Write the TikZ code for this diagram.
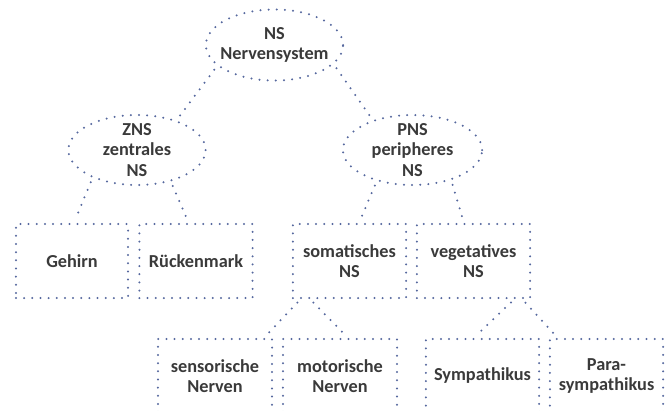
\documentclass[tikz,border=0pt]{standalone}
\usepackage{fontspec}
\setmainfont{Carlito}
\usetikzlibrary{shapes.geometric}
\definecolor{dotblue}{RGB}{86,104,158}
\definecolor{textgray}{RGB}{58,58,58}
\begin{document}
\begin{tikzpicture}[x=0.025cm, y=-0.025cm,
		every node/.style={font=\fontsize{13}{14.5}\selectfont\bfseries, text=textgray, align=center},
		dotline/.style={draw=dotblue, line width=1.6pt, line cap=round, dash pattern=on 0pt off 5.8pt},
		oval/.style={dotline, ellipse, inner xsep=-1cm, inner ysep=-1cm, minimum height=1.75cm},
		kasten/.style={dotline, rectangle, inner sep=0pt, minimum width=2.83cm, minimum height=1.85cm},
		link/.style={dotline, shorten <=0.12cm, shorten >=0.12cm}]
	% 1. Rahmen (Pixelmaße, untere Reihe wird abgeschnitten)
	\clip (0,0) rectangle (669,410);
	
	% 2. Ellipsen
	\node[oval, minimum width=3.43cm, minimum height=1.775cm] (ns) at (274.5,45) {NS\\Nervensystem};
	\node[oval, minimum width=3.43cm] (zns) at (137,150) {ZNS\\zentrales\\NS};
	\node[oval, minimum width=3.48cm] (pns) at (412.5,150) {PNS\\peripheres\\NS};
	
	% 3. Kästen, erste Reihe
	\node[kasten, minimum width=2.8cm] (gehirn) at (72,261) {Gehirn};
	\node[kasten] (rm) at (196,261) {Rückenmark};
	\node[kasten] (som) at (349.5,261) {somatisches\\NS};
	\node[kasten] (veg) at (473.5,261) {vegetatives\\NS};
	
	% 4. Kästen, zweite Reihe
	\node[kasten, minimum width=2.85cm] (sens) at (215,376) {sensorische\\Nerven};
	\node[kasten, minimum width=2.85cm] (mot) at (340,376) {motorische\\Nerven};
	\node[kasten] (symp) at (482.5,376) {Sympathikus};
	\node[kasten] (para) at (606.5,376) {Para-\\sympathikus};
	
	% 5. Verbindungen
	\draw[link] (ns.200) -- (zns.37);
	\draw[link] (ns.342) -- (pns.143);
	\draw[link] (zns.212) -- (gehirn.87);
	\draw[link] (zns.317) -- (rm.101);
	\draw[link] (pns.221) -- (som.76);
	\draw[link] (pns.322) -- (veg.104);
	\draw[link] (som.218) -- (sens.38);
	\draw[link] (som.224) -- (mot.78);
	\draw[link] (veg.317) -- (symp.103);
	\draw[link] (veg.322) -- (para.142);
\end{tikzpicture}
\end{document}
